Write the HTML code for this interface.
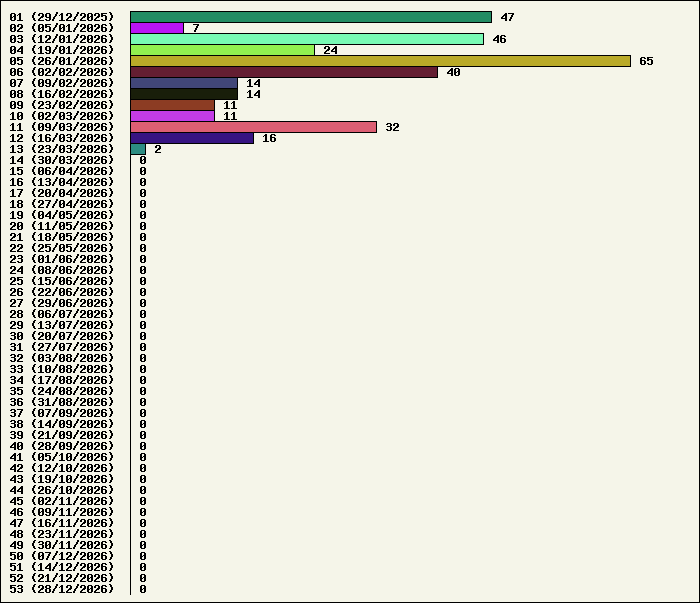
<!DOCTYPE html>
<html lang="en"><head><meta charset="utf-8"><title>Weekly totals</title>
<style>
html,body{margin:0;padding:0;}
body{width:700px;height:603px;overflow:hidden;background:#f5f5e9;}
#c{position:relative;width:698px;height:601px;border:1px solid #000;background:#f5f5e9;overflow:hidden;}
#tx{position:absolute;left:0;top:0;width:698px;height:601px;filter:url(#th);}
.t{position:absolute;font-family:"Liberation Mono",monospace;font-weight:bold;font-size:11px;letter-spacing:0;line-height:13px;height:13px;color:#000;white-space:pre;margin:0;text-rendering:geometricPrecision;transform-origin:0 0;transform:scale(1.1667,1.05);}
.t i{font-style:normal;position:relative;display:inline-block;width:6px;text-align:center;line-height:1px;}
.d0{font-family:"DejaVu Sans Mono",monospace;font-size:12px;left:-0.1875px;top:-0.25px;transform:scale(1,0.875);}
.d1{font-size:11px;left:-0.4375px;top:-0.1875px;transform:scale(0.8375,1.0125);-webkit-text-stroke:0.175px #000;}
.d2{font-family:"DejaVu Sans Mono",monospace;font-size:12.375px;left:-0.4375px;top:-0.4375px;transform:scale(0.9125,0.825);}
.d3{font-size:12.75px;left:-0.0625px;top:0.3125px;transform:scale(0.825,0.925);}
.d4{font-weight:normal;font-size:8.625px;left:0.6875px;top:-1.25px;transform:scale(1.375,1.3375);-webkit-text-stroke:0.325px #000;}
.d5{font-family:"Liberation Sans",sans-serif;font-size:10.375px;left:0.5px;top:-0.75px;transform:scale(1,1.1375);-webkit-text-stroke:0.15px #000;}
.d6{font-size:15px;left:-0.9375px;top:-0.3125px;transform:scale(0.7625,0.7875);-webkit-text-stroke:0.1px #000;}
.d7{font-weight:normal;font-size:10.625px;left:0.3125px;top:-0.4375px;transform:scale(1.0875,1.0375);-webkit-text-stroke:0.275px #000;}
.d8{font-size:11.125px;left:-0.1875px;top:-1px;transform:scale(0.9625,1.1);}
.d9{font-size:11.375px;left:-0.375px;top:-0.3125px;transform:scale(1.025,1.0375);}
.po{font-size:11.875px;left:-0.25px;top:-1.75px;transform:scale(1.025,0.8);-webkit-text-stroke:0.075px #000;}
.sl{font-size:11.5px;left:-0.3125px;top:0.4375px;transform:scale(0.9,0.975);-webkit-text-stroke:0.425px #000;}
.pc{font-size:12.25px;left:0px;top:-1.625px;transform:scale(0.7,0.725);-webkit-text-stroke:0.45px #000;}
.b{position:absolute;height:10px;border:1px solid #000;box-sizing:content-box;}
#ax{position:absolute;left:129px;top:10px;width:1px;height:584px;background:#000;}
.px{position:absolute;left:0;top:0;width:1px;height:1px;}
#pa{color:#000;}
#pr{color:#f5f5e9;}
svg.f{position:absolute;width:0;height:0;}
</style></head><body>
<svg class="f" width="0" height="0" aria-hidden="true"><filter id="th" x="0" y="0" width="100%" height="100%" color-interpolation-filters="sRGB"><feComponentTransfer><feFuncA type="discrete" tableValues="0 0 1 1"/></feComponentTransfer></filter></svg>
<div id="c">
<div id="ax"></div>
<div class="b" style="left:129px;top:10px;width:360px;background:#238c64"></div>
<div class="b" style="left:129px;top:21px;width:52px;background:#b914f5"></div>
<div class="b" style="left:129px;top:32px;width:352px;background:#78fab4"></div>
<div class="b" style="left:129px;top:43px;width:183px;background:#91f050"></div>
<div class="b" style="left:129px;top:54px;width:499px;background:#b9aa28"></div>
<div class="b" style="left:129px;top:65px;width:306px;background:#641e32"></div>
<div class="b" style="left:129px;top:76px;width:106px;background:#414678"></div>
<div class="b" style="left:129px;top:87px;width:106px;background:#191e0a"></div>
<div class="b" style="left:129px;top:98px;width:83px;background:#8c3c23"></div>
<div class="b" style="left:129px;top:109px;width:83px;background:#c33ce6"></div>
<div class="b" style="left:129px;top:120px;width:245px;background:#dc5f73"></div>
<div class="b" style="left:129px;top:131px;width:122px;background:#371482"></div>
<div class="b" style="left:129px;top:142px;width:14px;background:#2d8c82"></div>
<div id="tx">
<div class="t" aria-label="01 (29/12/2025)" style="left:8px;top:12px"><i class="d0">0</i><i class="d1">1</i><i> </i><i class="po">(</i><i class="d2">2</i><i class="d9">9</i><i class="sl">/</i><i class="d1">1</i><i class="d2">2</i><i class="sl">/</i><i class="d2">2</i><i class="d0">0</i><i class="d2">2</i><i class="d5">5</i><i class="pc">)</i></div><div class="t" aria-label="47" style="left:499px;top:12px"><i class="d4">4</i><i class="d7">7</i></div>
<div class="t" aria-label="02 (05/01/2026)" style="left:8px;top:23px"><i class="d0">0</i><i class="d2">2</i><i> </i><i class="po">(</i><i class="d0">0</i><i class="d5">5</i><i class="sl">/</i><i class="d0">0</i><i class="d1">1</i><i class="sl">/</i><i class="d2">2</i><i class="d0">0</i><i class="d2">2</i><i class="d6">6</i><i class="pc">)</i></div><div class="t" aria-label="7" style="left:191px;top:23px"><i class="d7">7</i></div>
<div class="t" aria-label="03 (12/01/2026)" style="left:8px;top:34px"><i class="d0">0</i><i class="d3">3</i><i> </i><i class="po">(</i><i class="d1">1</i><i class="d2">2</i><i class="sl">/</i><i class="d0">0</i><i class="d1">1</i><i class="sl">/</i><i class="d2">2</i><i class="d0">0</i><i class="d2">2</i><i class="d6">6</i><i class="pc">)</i></div><div class="t" aria-label="46" style="left:491px;top:34px"><i class="d4">4</i><i class="d6">6</i></div>
<div class="t" aria-label="04 (19/01/2026)" style="left:8px;top:45px"><i class="d0">0</i><i class="d4">4</i><i> </i><i class="po">(</i><i class="d1">1</i><i class="d9">9</i><i class="sl">/</i><i class="d0">0</i><i class="d1">1</i><i class="sl">/</i><i class="d2">2</i><i class="d0">0</i><i class="d2">2</i><i class="d6">6</i><i class="pc">)</i></div><div class="t" aria-label="24" style="left:322px;top:45px"><i class="d2">2</i><i class="d4">4</i></div>
<div class="t" aria-label="05 (26/01/2026)" style="left:8px;top:56px"><i class="d0">0</i><i class="d5">5</i><i> </i><i class="po">(</i><i class="d2">2</i><i class="d6">6</i><i class="sl">/</i><i class="d0">0</i><i class="d1">1</i><i class="sl">/</i><i class="d2">2</i><i class="d0">0</i><i class="d2">2</i><i class="d6">6</i><i class="pc">)</i></div><div class="t" aria-label="65" style="left:638px;top:56px"><i class="d6">6</i><i class="d5">5</i></div>
<div class="t" aria-label="06 (02/02/2026)" style="left:8px;top:67px"><i class="d0">0</i><i class="d6">6</i><i> </i><i class="po">(</i><i class="d0">0</i><i class="d2">2</i><i class="sl">/</i><i class="d0">0</i><i class="d2">2</i><i class="sl">/</i><i class="d2">2</i><i class="d0">0</i><i class="d2">2</i><i class="d6">6</i><i class="pc">)</i></div><div class="t" aria-label="40" style="left:445px;top:67px"><i class="d4">4</i><i class="d0">0</i></div>
<div class="t" aria-label="07 (09/02/2026)" style="left:8px;top:78px"><i class="d0">0</i><i class="d7">7</i><i> </i><i class="po">(</i><i class="d0">0</i><i class="d9">9</i><i class="sl">/</i><i class="d0">0</i><i class="d2">2</i><i class="sl">/</i><i class="d2">2</i><i class="d0">0</i><i class="d2">2</i><i class="d6">6</i><i class="pc">)</i></div><div class="t" aria-label="14" style="left:245px;top:78px"><i class="d1">1</i><i class="d4">4</i></div>
<div class="t" aria-label="08 (16/02/2026)" style="left:8px;top:89px"><i class="d0">0</i><i class="d8">8</i><i> </i><i class="po">(</i><i class="d1">1</i><i class="d6">6</i><i class="sl">/</i><i class="d0">0</i><i class="d2">2</i><i class="sl">/</i><i class="d2">2</i><i class="d0">0</i><i class="d2">2</i><i class="d6">6</i><i class="pc">)</i></div><div class="t" aria-label="14" style="left:245px;top:89px"><i class="d1">1</i><i class="d4">4</i></div>
<div class="t" aria-label="09 (23/02/2026)" style="left:8px;top:100px"><i class="d0">0</i><i class="d9">9</i><i> </i><i class="po">(</i><i class="d2">2</i><i class="d3">3</i><i class="sl">/</i><i class="d0">0</i><i class="d2">2</i><i class="sl">/</i><i class="d2">2</i><i class="d0">0</i><i class="d2">2</i><i class="d6">6</i><i class="pc">)</i></div><div class="t" aria-label="11" style="left:222px;top:100px"><i class="d1">1</i><i class="d1">1</i></div>
<div class="t" aria-label="10 (02/03/2026)" style="left:8px;top:111px"><i class="d1">1</i><i class="d0">0</i><i> </i><i class="po">(</i><i class="d0">0</i><i class="d2">2</i><i class="sl">/</i><i class="d0">0</i><i class="d3">3</i><i class="sl">/</i><i class="d2">2</i><i class="d0">0</i><i class="d2">2</i><i class="d6">6</i><i class="pc">)</i></div><div class="t" aria-label="11" style="left:222px;top:111px"><i class="d1">1</i><i class="d1">1</i></div>
<div class="t" aria-label="11 (09/03/2026)" style="left:8px;top:122px"><i class="d1">1</i><i class="d1">1</i><i> </i><i class="po">(</i><i class="d0">0</i><i class="d9">9</i><i class="sl">/</i><i class="d0">0</i><i class="d3">3</i><i class="sl">/</i><i class="d2">2</i><i class="d0">0</i><i class="d2">2</i><i class="d6">6</i><i class="pc">)</i></div><div class="t" aria-label="32" style="left:384px;top:122px"><i class="d3">3</i><i class="d2">2</i></div>
<div class="t" aria-label="12 (16/03/2026)" style="left:8px;top:133px"><i class="d1">1</i><i class="d2">2</i><i> </i><i class="po">(</i><i class="d1">1</i><i class="d6">6</i><i class="sl">/</i><i class="d0">0</i><i class="d3">3</i><i class="sl">/</i><i class="d2">2</i><i class="d0">0</i><i class="d2">2</i><i class="d6">6</i><i class="pc">)</i></div><div class="t" aria-label="16" style="left:261px;top:133px"><i class="d1">1</i><i class="d6">6</i></div>
<div class="t" aria-label="13 (23/03/2026)" style="left:8px;top:144px"><i class="d1">1</i><i class="d3">3</i><i> </i><i class="po">(</i><i class="d2">2</i><i class="d3">3</i><i class="sl">/</i><i class="d0">0</i><i class="d3">3</i><i class="sl">/</i><i class="d2">2</i><i class="d0">0</i><i class="d2">2</i><i class="d6">6</i><i class="pc">)</i></div><div class="t" aria-label="2" style="left:153px;top:144px"><i class="d2">2</i></div>
<div class="t" aria-label="14 (30/03/2026)" style="left:8px;top:155px"><i class="d1">1</i><i class="d4">4</i><i> </i><i class="po">(</i><i class="d3">3</i><i class="d0">0</i><i class="sl">/</i><i class="d0">0</i><i class="d3">3</i><i class="sl">/</i><i class="d2">2</i><i class="d0">0</i><i class="d2">2</i><i class="d6">6</i><i class="pc">)</i></div><div class="t" aria-label="0" style="left:138px;top:155px"><i class="d0">0</i></div>
<div class="t" aria-label="15 (06/04/2026)" style="left:8px;top:166px"><i class="d1">1</i><i class="d5">5</i><i> </i><i class="po">(</i><i class="d0">0</i><i class="d6">6</i><i class="sl">/</i><i class="d0">0</i><i class="d4">4</i><i class="sl">/</i><i class="d2">2</i><i class="d0">0</i><i class="d2">2</i><i class="d6">6</i><i class="pc">)</i></div><div class="t" aria-label="0" style="left:138px;top:166px"><i class="d0">0</i></div>
<div class="t" aria-label="16 (13/04/2026)" style="left:8px;top:177px"><i class="d1">1</i><i class="d6">6</i><i> </i><i class="po">(</i><i class="d1">1</i><i class="d3">3</i><i class="sl">/</i><i class="d0">0</i><i class="d4">4</i><i class="sl">/</i><i class="d2">2</i><i class="d0">0</i><i class="d2">2</i><i class="d6">6</i><i class="pc">)</i></div><div class="t" aria-label="0" style="left:138px;top:177px"><i class="d0">0</i></div>
<div class="t" aria-label="17 (20/04/2026)" style="left:8px;top:188px"><i class="d1">1</i><i class="d7">7</i><i> </i><i class="po">(</i><i class="d2">2</i><i class="d0">0</i><i class="sl">/</i><i class="d0">0</i><i class="d4">4</i><i class="sl">/</i><i class="d2">2</i><i class="d0">0</i><i class="d2">2</i><i class="d6">6</i><i class="pc">)</i></div><div class="t" aria-label="0" style="left:138px;top:188px"><i class="d0">0</i></div>
<div class="t" aria-label="18 (27/04/2026)" style="left:8px;top:199px"><i class="d1">1</i><i class="d8">8</i><i> </i><i class="po">(</i><i class="d2">2</i><i class="d7">7</i><i class="sl">/</i><i class="d0">0</i><i class="d4">4</i><i class="sl">/</i><i class="d2">2</i><i class="d0">0</i><i class="d2">2</i><i class="d6">6</i><i class="pc">)</i></div><div class="t" aria-label="0" style="left:138px;top:199px"><i class="d0">0</i></div>
<div class="t" aria-label="19 (04/05/2026)" style="left:8px;top:210px"><i class="d1">1</i><i class="d9">9</i><i> </i><i class="po">(</i><i class="d0">0</i><i class="d4">4</i><i class="sl">/</i><i class="d0">0</i><i class="d5">5</i><i class="sl">/</i><i class="d2">2</i><i class="d0">0</i><i class="d2">2</i><i class="d6">6</i><i class="pc">)</i></div><div class="t" aria-label="0" style="left:138px;top:210px"><i class="d0">0</i></div>
<div class="t" aria-label="20 (11/05/2026)" style="left:8px;top:221px"><i class="d2">2</i><i class="d0">0</i><i> </i><i class="po">(</i><i class="d1">1</i><i class="d1">1</i><i class="sl">/</i><i class="d0">0</i><i class="d5">5</i><i class="sl">/</i><i class="d2">2</i><i class="d0">0</i><i class="d2">2</i><i class="d6">6</i><i class="pc">)</i></div><div class="t" aria-label="0" style="left:138px;top:221px"><i class="d0">0</i></div>
<div class="t" aria-label="21 (18/05/2026)" style="left:8px;top:232px"><i class="d2">2</i><i class="d1">1</i><i> </i><i class="po">(</i><i class="d1">1</i><i class="d8">8</i><i class="sl">/</i><i class="d0">0</i><i class="d5">5</i><i class="sl">/</i><i class="d2">2</i><i class="d0">0</i><i class="d2">2</i><i class="d6">6</i><i class="pc">)</i></div><div class="t" aria-label="0" style="left:138px;top:232px"><i class="d0">0</i></div>
<div class="t" aria-label="22 (25/05/2026)" style="left:8px;top:243px"><i class="d2">2</i><i class="d2">2</i><i> </i><i class="po">(</i><i class="d2">2</i><i class="d5">5</i><i class="sl">/</i><i class="d0">0</i><i class="d5">5</i><i class="sl">/</i><i class="d2">2</i><i class="d0">0</i><i class="d2">2</i><i class="d6">6</i><i class="pc">)</i></div><div class="t" aria-label="0" style="left:138px;top:243px"><i class="d0">0</i></div>
<div class="t" aria-label="23 (01/06/2026)" style="left:8px;top:254px"><i class="d2">2</i><i class="d3">3</i><i> </i><i class="po">(</i><i class="d0">0</i><i class="d1">1</i><i class="sl">/</i><i class="d0">0</i><i class="d6">6</i><i class="sl">/</i><i class="d2">2</i><i class="d0">0</i><i class="d2">2</i><i class="d6">6</i><i class="pc">)</i></div><div class="t" aria-label="0" style="left:138px;top:254px"><i class="d0">0</i></div>
<div class="t" aria-label="24 (08/06/2026)" style="left:8px;top:265px"><i class="d2">2</i><i class="d4">4</i><i> </i><i class="po">(</i><i class="d0">0</i><i class="d8">8</i><i class="sl">/</i><i class="d0">0</i><i class="d6">6</i><i class="sl">/</i><i class="d2">2</i><i class="d0">0</i><i class="d2">2</i><i class="d6">6</i><i class="pc">)</i></div><div class="t" aria-label="0" style="left:138px;top:265px"><i class="d0">0</i></div>
<div class="t" aria-label="25 (15/06/2026)" style="left:8px;top:276px"><i class="d2">2</i><i class="d5">5</i><i> </i><i class="po">(</i><i class="d1">1</i><i class="d5">5</i><i class="sl">/</i><i class="d0">0</i><i class="d6">6</i><i class="sl">/</i><i class="d2">2</i><i class="d0">0</i><i class="d2">2</i><i class="d6">6</i><i class="pc">)</i></div><div class="t" aria-label="0" style="left:138px;top:276px"><i class="d0">0</i></div>
<div class="t" aria-label="26 (22/06/2026)" style="left:8px;top:287px"><i class="d2">2</i><i class="d6">6</i><i> </i><i class="po">(</i><i class="d2">2</i><i class="d2">2</i><i class="sl">/</i><i class="d0">0</i><i class="d6">6</i><i class="sl">/</i><i class="d2">2</i><i class="d0">0</i><i class="d2">2</i><i class="d6">6</i><i class="pc">)</i></div><div class="t" aria-label="0" style="left:138px;top:287px"><i class="d0">0</i></div>
<div class="t" aria-label="27 (29/06/2026)" style="left:8px;top:298px"><i class="d2">2</i><i class="d7">7</i><i> </i><i class="po">(</i><i class="d2">2</i><i class="d9">9</i><i class="sl">/</i><i class="d0">0</i><i class="d6">6</i><i class="sl">/</i><i class="d2">2</i><i class="d0">0</i><i class="d2">2</i><i class="d6">6</i><i class="pc">)</i></div><div class="t" aria-label="0" style="left:138px;top:298px"><i class="d0">0</i></div>
<div class="t" aria-label="28 (06/07/2026)" style="left:8px;top:309px"><i class="d2">2</i><i class="d8">8</i><i> </i><i class="po">(</i><i class="d0">0</i><i class="d6">6</i><i class="sl">/</i><i class="d0">0</i><i class="d7">7</i><i class="sl">/</i><i class="d2">2</i><i class="d0">0</i><i class="d2">2</i><i class="d6">6</i><i class="pc">)</i></div><div class="t" aria-label="0" style="left:138px;top:309px"><i class="d0">0</i></div>
<div class="t" aria-label="29 (13/07/2026)" style="left:8px;top:320px"><i class="d2">2</i><i class="d9">9</i><i> </i><i class="po">(</i><i class="d1">1</i><i class="d3">3</i><i class="sl">/</i><i class="d0">0</i><i class="d7">7</i><i class="sl">/</i><i class="d2">2</i><i class="d0">0</i><i class="d2">2</i><i class="d6">6</i><i class="pc">)</i></div><div class="t" aria-label="0" style="left:138px;top:320px"><i class="d0">0</i></div>
<div class="t" aria-label="30 (20/07/2026)" style="left:8px;top:331px"><i class="d3">3</i><i class="d0">0</i><i> </i><i class="po">(</i><i class="d2">2</i><i class="d0">0</i><i class="sl">/</i><i class="d0">0</i><i class="d7">7</i><i class="sl">/</i><i class="d2">2</i><i class="d0">0</i><i class="d2">2</i><i class="d6">6</i><i class="pc">)</i></div><div class="t" aria-label="0" style="left:138px;top:331px"><i class="d0">0</i></div>
<div class="t" aria-label="31 (27/07/2026)" style="left:8px;top:342px"><i class="d3">3</i><i class="d1">1</i><i> </i><i class="po">(</i><i class="d2">2</i><i class="d7">7</i><i class="sl">/</i><i class="d0">0</i><i class="d7">7</i><i class="sl">/</i><i class="d2">2</i><i class="d0">0</i><i class="d2">2</i><i class="d6">6</i><i class="pc">)</i></div><div class="t" aria-label="0" style="left:138px;top:342px"><i class="d0">0</i></div>
<div class="t" aria-label="32 (03/08/2026)" style="left:8px;top:353px"><i class="d3">3</i><i class="d2">2</i><i> </i><i class="po">(</i><i class="d0">0</i><i class="d3">3</i><i class="sl">/</i><i class="d0">0</i><i class="d8">8</i><i class="sl">/</i><i class="d2">2</i><i class="d0">0</i><i class="d2">2</i><i class="d6">6</i><i class="pc">)</i></div><div class="t" aria-label="0" style="left:138px;top:353px"><i class="d0">0</i></div>
<div class="t" aria-label="33 (10/08/2026)" style="left:8px;top:364px"><i class="d3">3</i><i class="d3">3</i><i> </i><i class="po">(</i><i class="d1">1</i><i class="d0">0</i><i class="sl">/</i><i class="d0">0</i><i class="d8">8</i><i class="sl">/</i><i class="d2">2</i><i class="d0">0</i><i class="d2">2</i><i class="d6">6</i><i class="pc">)</i></div><div class="t" aria-label="0" style="left:138px;top:364px"><i class="d0">0</i></div>
<div class="t" aria-label="34 (17/08/2026)" style="left:8px;top:375px"><i class="d3">3</i><i class="d4">4</i><i> </i><i class="po">(</i><i class="d1">1</i><i class="d7">7</i><i class="sl">/</i><i class="d0">0</i><i class="d8">8</i><i class="sl">/</i><i class="d2">2</i><i class="d0">0</i><i class="d2">2</i><i class="d6">6</i><i class="pc">)</i></div><div class="t" aria-label="0" style="left:138px;top:375px"><i class="d0">0</i></div>
<div class="t" aria-label="35 (24/08/2026)" style="left:8px;top:386px"><i class="d3">3</i><i class="d5">5</i><i> </i><i class="po">(</i><i class="d2">2</i><i class="d4">4</i><i class="sl">/</i><i class="d0">0</i><i class="d8">8</i><i class="sl">/</i><i class="d2">2</i><i class="d0">0</i><i class="d2">2</i><i class="d6">6</i><i class="pc">)</i></div><div class="t" aria-label="0" style="left:138px;top:386px"><i class="d0">0</i></div>
<div class="t" aria-label="36 (31/08/2026)" style="left:8px;top:397px"><i class="d3">3</i><i class="d6">6</i><i> </i><i class="po">(</i><i class="d3">3</i><i class="d1">1</i><i class="sl">/</i><i class="d0">0</i><i class="d8">8</i><i class="sl">/</i><i class="d2">2</i><i class="d0">0</i><i class="d2">2</i><i class="d6">6</i><i class="pc">)</i></div><div class="t" aria-label="0" style="left:138px;top:397px"><i class="d0">0</i></div>
<div class="t" aria-label="37 (07/09/2026)" style="left:8px;top:408px"><i class="d3">3</i><i class="d7">7</i><i> </i><i class="po">(</i><i class="d0">0</i><i class="d7">7</i><i class="sl">/</i><i class="d0">0</i><i class="d9">9</i><i class="sl">/</i><i class="d2">2</i><i class="d0">0</i><i class="d2">2</i><i class="d6">6</i><i class="pc">)</i></div><div class="t" aria-label="0" style="left:138px;top:408px"><i class="d0">0</i></div>
<div class="t" aria-label="38 (14/09/2026)" style="left:8px;top:419px"><i class="d3">3</i><i class="d8">8</i><i> </i><i class="po">(</i><i class="d1">1</i><i class="d4">4</i><i class="sl">/</i><i class="d0">0</i><i class="d9">9</i><i class="sl">/</i><i class="d2">2</i><i class="d0">0</i><i class="d2">2</i><i class="d6">6</i><i class="pc">)</i></div><div class="t" aria-label="0" style="left:138px;top:419px"><i class="d0">0</i></div>
<div class="t" aria-label="39 (21/09/2026)" style="left:8px;top:430px"><i class="d3">3</i><i class="d9">9</i><i> </i><i class="po">(</i><i class="d2">2</i><i class="d1">1</i><i class="sl">/</i><i class="d0">0</i><i class="d9">9</i><i class="sl">/</i><i class="d2">2</i><i class="d0">0</i><i class="d2">2</i><i class="d6">6</i><i class="pc">)</i></div><div class="t" aria-label="0" style="left:138px;top:430px"><i class="d0">0</i></div>
<div class="t" aria-label="40 (28/09/2026)" style="left:8px;top:441px"><i class="d4">4</i><i class="d0">0</i><i> </i><i class="po">(</i><i class="d2">2</i><i class="d8">8</i><i class="sl">/</i><i class="d0">0</i><i class="d9">9</i><i class="sl">/</i><i class="d2">2</i><i class="d0">0</i><i class="d2">2</i><i class="d6">6</i><i class="pc">)</i></div><div class="t" aria-label="0" style="left:138px;top:441px"><i class="d0">0</i></div>
<div class="t" aria-label="41 (05/10/2026)" style="left:8px;top:452px"><i class="d4">4</i><i class="d1">1</i><i> </i><i class="po">(</i><i class="d0">0</i><i class="d5">5</i><i class="sl">/</i><i class="d1">1</i><i class="d0">0</i><i class="sl">/</i><i class="d2">2</i><i class="d0">0</i><i class="d2">2</i><i class="d6">6</i><i class="pc">)</i></div><div class="t" aria-label="0" style="left:138px;top:452px"><i class="d0">0</i></div>
<div class="t" aria-label="42 (12/10/2026)" style="left:8px;top:463px"><i class="d4">4</i><i class="d2">2</i><i> </i><i class="po">(</i><i class="d1">1</i><i class="d2">2</i><i class="sl">/</i><i class="d1">1</i><i class="d0">0</i><i class="sl">/</i><i class="d2">2</i><i class="d0">0</i><i class="d2">2</i><i class="d6">6</i><i class="pc">)</i></div><div class="t" aria-label="0" style="left:138px;top:463px"><i class="d0">0</i></div>
<div class="t" aria-label="43 (19/10/2026)" style="left:8px;top:474px"><i class="d4">4</i><i class="d3">3</i><i> </i><i class="po">(</i><i class="d1">1</i><i class="d9">9</i><i class="sl">/</i><i class="d1">1</i><i class="d0">0</i><i class="sl">/</i><i class="d2">2</i><i class="d0">0</i><i class="d2">2</i><i class="d6">6</i><i class="pc">)</i></div><div class="t" aria-label="0" style="left:138px;top:474px"><i class="d0">0</i></div>
<div class="t" aria-label="44 (26/10/2026)" style="left:8px;top:485px"><i class="d4">4</i><i class="d4">4</i><i> </i><i class="po">(</i><i class="d2">2</i><i class="d6">6</i><i class="sl">/</i><i class="d1">1</i><i class="d0">0</i><i class="sl">/</i><i class="d2">2</i><i class="d0">0</i><i class="d2">2</i><i class="d6">6</i><i class="pc">)</i></div><div class="t" aria-label="0" style="left:138px;top:485px"><i class="d0">0</i></div>
<div class="t" aria-label="45 (02/11/2026)" style="left:8px;top:496px"><i class="d4">4</i><i class="d5">5</i><i> </i><i class="po">(</i><i class="d0">0</i><i class="d2">2</i><i class="sl">/</i><i class="d1">1</i><i class="d1">1</i><i class="sl">/</i><i class="d2">2</i><i class="d0">0</i><i class="d2">2</i><i class="d6">6</i><i class="pc">)</i></div><div class="t" aria-label="0" style="left:138px;top:496px"><i class="d0">0</i></div>
<div class="t" aria-label="46 (09/11/2026)" style="left:8px;top:507px"><i class="d4">4</i><i class="d6">6</i><i> </i><i class="po">(</i><i class="d0">0</i><i class="d9">9</i><i class="sl">/</i><i class="d1">1</i><i class="d1">1</i><i class="sl">/</i><i class="d2">2</i><i class="d0">0</i><i class="d2">2</i><i class="d6">6</i><i class="pc">)</i></div><div class="t" aria-label="0" style="left:138px;top:507px"><i class="d0">0</i></div>
<div class="t" aria-label="47 (16/11/2026)" style="left:8px;top:518px"><i class="d4">4</i><i class="d7">7</i><i> </i><i class="po">(</i><i class="d1">1</i><i class="d6">6</i><i class="sl">/</i><i class="d1">1</i><i class="d1">1</i><i class="sl">/</i><i class="d2">2</i><i class="d0">0</i><i class="d2">2</i><i class="d6">6</i><i class="pc">)</i></div><div class="t" aria-label="0" style="left:138px;top:518px"><i class="d0">0</i></div>
<div class="t" aria-label="48 (23/11/2026)" style="left:8px;top:529px"><i class="d4">4</i><i class="d8">8</i><i> </i><i class="po">(</i><i class="d2">2</i><i class="d3">3</i><i class="sl">/</i><i class="d1">1</i><i class="d1">1</i><i class="sl">/</i><i class="d2">2</i><i class="d0">0</i><i class="d2">2</i><i class="d6">6</i><i class="pc">)</i></div><div class="t" aria-label="0" style="left:138px;top:529px"><i class="d0">0</i></div>
<div class="t" aria-label="49 (30/11/2026)" style="left:8px;top:540px"><i class="d4">4</i><i class="d9">9</i><i> </i><i class="po">(</i><i class="d3">3</i><i class="d0">0</i><i class="sl">/</i><i class="d1">1</i><i class="d1">1</i><i class="sl">/</i><i class="d2">2</i><i class="d0">0</i><i class="d2">2</i><i class="d6">6</i><i class="pc">)</i></div><div class="t" aria-label="0" style="left:138px;top:540px"><i class="d0">0</i></div>
<div class="t" aria-label="50 (07/12/2026)" style="left:8px;top:551px"><i class="d5">5</i><i class="d0">0</i><i> </i><i class="po">(</i><i class="d0">0</i><i class="d7">7</i><i class="sl">/</i><i class="d1">1</i><i class="d2">2</i><i class="sl">/</i><i class="d2">2</i><i class="d0">0</i><i class="d2">2</i><i class="d6">6</i><i class="pc">)</i></div><div class="t" aria-label="0" style="left:138px;top:551px"><i class="d0">0</i></div>
<div class="t" aria-label="51 (14/12/2026)" style="left:8px;top:562px"><i class="d5">5</i><i class="d1">1</i><i> </i><i class="po">(</i><i class="d1">1</i><i class="d4">4</i><i class="sl">/</i><i class="d1">1</i><i class="d2">2</i><i class="sl">/</i><i class="d2">2</i><i class="d0">0</i><i class="d2">2</i><i class="d6">6</i><i class="pc">)</i></div><div class="t" aria-label="0" style="left:138px;top:562px"><i class="d0">0</i></div>
<div class="t" aria-label="52 (21/12/2026)" style="left:8px;top:573px"><i class="d5">5</i><i class="d2">2</i><i> </i><i class="po">(</i><i class="d2">2</i><i class="d1">1</i><i class="sl">/</i><i class="d1">1</i><i class="d2">2</i><i class="sl">/</i><i class="d2">2</i><i class="d0">0</i><i class="d2">2</i><i class="d6">6</i><i class="pc">)</i></div><div class="t" aria-label="0" style="left:138px;top:573px"><i class="d0">0</i></div>
<div class="t" aria-label="53 (28/12/2026)" style="left:8px;top:584px"><i class="d5">5</i><i class="d3">3</i><i> </i><i class="po">(</i><i class="d2">2</i><i class="d8">8</i><i class="sl">/</i><i class="d1">1</i><i class="d2">2</i><i class="sl">/</i><i class="d2">2</i><i class="d0">0</i><i class="d2">2</i><i class="d6">6</i><i class="pc">)</i></div><div class="t" aria-label="0" style="left:138px;top:584px"><i class="d0">0</i></div>
</div>
<div class="px" id="pa" style="box-shadow:37px 14px,38px 14px,65px 14px,66px 14px,79px 14px,80px 14px,93px 14px,94px 14px,12px 15px,89px 15px,16px 25px,17px 25px,79px 25px,80px 25px,93px 25px,94px 25px,12px 26px,40px 26px,61px 26px,89px 26px,44px 36px,45px 36px,79px 36px,80px 36px,93px 36px,94px 36px,12px 37px,17px 37px,61px 37px,89px 37px,79px 47px,80px 47px,93px 47px,94px 47px,323px 47px,324px 47px,12px 48px,61px 48px,89px 48px,37px 58px,38px 58px,79px 58px,80px 58px,93px 58px,94px 58px,12px 59px,61px 59px,89px 59px,44px 69px,45px 69px,65px 69px,66px 69px,79px 69px,80px 69px,93px 69px,94px 69px,12px 70px,40px 70px,61px 70px,89px 70px,456px 70px,65px 80px,66px 80px,79px 80px,80px 80px,93px 80px,94px 80px,12px 81px,40px 81px,61px 81px,89px 81px,65px 91px,66px 91px,79px 91px,80px 91px,93px 91px,94px 91px,12px 92px,61px 92px,89px 92px,37px 102px,38px 102px,65px 102px,66px 102px,79px 102px,80px 102px,93px 102px,94px 102px,12px 103px,45px 103px,61px 103px,89px 103px,44px 113px,45px 113px,79px 113px,80px 113px,93px 113px,94px 113px,19px 114px,40px 114px,61px 114px,66px 114px,89px 114px,79px 124px,80px 124px,93px 124px,94px 124px,392px 124px,393px 124px,40px 125px,61px 125px,66px 125px,89px 125px,386px 125px,16px 135px,17px 135px,79px 135px,80px 135px,93px 135px,94px 135px,61px 136px,66px 136px,89px 136px,37px 146px,38px 146px,79px 146px,80px 146px,93px 146px,94px 146px,154px 146px,155px 146px,17px 147px,45px 147px,61px 147px,66px 147px,89px 147px,79px 157px,80px 157px,93px 157px,94px 157px,38px 158px,47px 158px,61px 158px,66px 158px,89px 158px,142px 158px,79px 168px,80px 168px,93px 168px,94px 168px,40px 169px,61px 169px,89px 169px,142px 169px,79px 179px,80px 179px,93px 179px,94px 179px,45px 180px,61px 180px,89px 180px,142px 180px,37px 190px,38px 190px,79px 190px,80px 190px,93px 190px,94px 190px,47px 191px,61px 191px,89px 191px,142px 191px,37px 201px,38px 201px,79px 201px,80px 201px,93px 201px,94px 201px,61px 202px,89px 202px,142px 202px,79px 212px,80px 212px,93px 212px,94px 212px,40px 213px,61px 213px,89px 213px,142px 213px,9px 223px,10px 223px,79px 223px,80px 223px,93px 223px,94px 223px,19px 224px,61px 224px,89px 224px,142px 224px,9px 234px,10px 234px,79px 234px,80px 234px,93px 234px,94px 234px,61px 235px,89px 235px,142px 235px,9px 245px,10px 245px,16px 245px,17px 245px,37px 245px,38px 245px,79px 245px,80px 245px,93px 245px,94px 245px,61px 246px,89px 246px,142px 246px,9px 256px,10px 256px,79px 256px,80px 256px,93px 256px,94px 256px,17px 257px,40px 257px,61px 257px,89px 257px,142px 257px,9px 267px,10px 267px,79px 267px,80px 267px,93px 267px,94px 267px,40px 268px,61px 268px,89px 268px,142px 268px,9px 278px,10px 278px,79px 278px,80px 278px,93px 278px,94px 278px,61px 279px,89px 279px,142px 279px,9px 289px,10px 289px,37px 289px,38px 289px,44px 289px,45px 289px,79px 289px,80px 289px,93px 289px,94px 289px,61px 290px,89px 290px,142px 290px,9px 300px,10px 300px,37px 300px,38px 300px,79px 300px,80px 300px,93px 300px,94px 300px,61px 301px,89px 301px,142px 301px,9px 311px,10px 311px,79px 311px,80px 311px,93px 311px,94px 311px,40px 312px,61px 312px,89px 312px,142px 312px,9px 322px,10px 322px,79px 322px,80px 322px,93px 322px,94px 322px,45px 323px,61px 323px,89px 323px,142px 323px,37px 333px,38px 333px,79px 333px,80px 333px,93px 333px,94px 333px,10px 334px,19px 334px,47px 334px,61px 334px,89px 334px,142px 334px,37px 344px,38px 344px,79px 344px,80px 344px,93px 344px,94px 344px,10px 345px,61px 345px,89px 345px,142px 345px,16px 355px,17px 355px,79px 355px,80px 355px,93px 355px,94px 355px,10px 356px,40px 356px,45px 356px,61px 356px,89px 356px,142px 356px,79px 366px,80px 366px,93px 366px,94px 366px,10px 367px,17px 367px,47px 367px,61px 367px,89px 367px,142px 367px,79px 377px,80px 377px,93px 377px,94px 377px,10px 378px,61px 378px,89px 378px,142px 378px,37px 388px,38px 388px,79px 388px,80px 388px,93px 388px,94px 388px,10px 389px,61px 389px,89px 389px,142px 389px,79px 399px,80px 399px,93px 399px,94px 399px,10px 400px,38px 400px,61px 400px,89px 400px,142px 400px,79px 410px,80px 410px,93px 410px,94px 410px,10px 411px,40px 411px,61px 411px,89px 411px,142px 411px,79px 421px,80px 421px,93px 421px,94px 421px,10px 422px,61px 422px,89px 422px,142px 422px,37px 432px,38px 432px,79px 432px,80px 432px,93px 432px,94px 432px,10px 433px,61px 433px,89px 433px,142px 433px,37px 443px,38px 443px,79px 443px,80px 443px,93px 443px,94px 443px,19px 444px,61px 444px,89px 444px,142px 444px,79px 454px,80px 454px,93px 454px,94px 454px,40px 455px,68px 455px,89px 455px,142px 455px,16px 465px,17px 465px,44px 465px,45px 465px,79px 465px,80px 465px,93px 465px,94px 465px,68px 466px,89px 466px,142px 466px,79px 476px,80px 476px,93px 476px,94px 476px,17px 477px,68px 477px,89px 477px,142px 477px,37px 487px,38px 487px,79px 487px,80px 487px,93px 487px,94px 487px,68px 488px,89px 488px,142px 488px,44px 498px,45px 498px,79px 498px,80px 498px,93px 498px,94px 498px,40px 499px,89px 499px,142px 499px,79px 509px,80px 509px,93px 509px,94px 509px,40px 510px,89px 510px,142px 510px,79px 520px,80px 520px,93px 520px,94px 520px,89px 521px,142px 521px,37px 531px,38px 531px,79px 531px,80px 531px,93px 531px,94px 531px,45px 532px,89px 532px,142px 532px,79px 542px,80px 542px,93px 542px,94px 542px,38px 543px,47px 543px,89px 543px,142px 543px,65px 553px,66px 553px,79px 553px,80px 553px,93px 553px,94px 553px,19px 554px,40px 554px,89px 554px,142px 554px,65px 564px,66px 564px,79px 564px,80px 564px,93px 564px,94px 564px,89px 565px,142px 565px,16px 575px,17px 575px,37px 575px,38px 575px,65px 575px,66px 575px,79px 575px,80px 575px,93px 575px,94px 575px,89px 576px,142px 576px,37px 586px,38px 586px,65px 586px,66px 586px,79px 586px,80px 586px,93px 586px,94px 586px,17px 587px,89px 587px,142px 587px"></div>
<div class="px" id="pr" style="box-shadow:102px 15px,103px 15px,506px 17px,46px 26px,47px 26px,19px 38px,498px 39px,22px 50px,336px 50px,18px 59px,19px 59px,648px 59px,649px 59px,15px 70px,15px 71px,452px 72px,259px 83px,259px 94px,47px 104px,68px 115px,68px 126px,388px 126px,68px 137px,19px 148px,47px 148px,68px 148px,40px 159px,68px 159px,22px 160px,18px 169px,19px 169px,43px 169px,43px 170px,71px 171px,47px 181px,71px 182px,71px 193px,71px 204px,67px 213px,68px 213px,50px 215px,67px 224px,68px 224px,67px 235px,68px 235px,46px 246px,47px 246px,67px 246px,68px 246px,64px 257px,19px 258px,64px 258px,64px 268px,64px 269px,22px 270px,18px 279px,19px 279px,46px 279px,47px 279px,64px 279px,64px 280px,64px 290px,64px 291px,64px 301px,64px 302px,43px 312px,43px 313px,47px 324px,12px 335px,12px 346px,12px 357px,47px 357px,12px 368px,19px 368px,12px 379px,22px 380px,18px 389px,19px 389px,12px 390px,50px 391px,12px 401px,40px 401px,12px 412px,12px 423px,50px 424px,12px 434px,15px 446px,46px 455px,47px 455px,15px 457px,15px 468px,19px 478px,15px 479px,16px 479px,15px 490px,22px 490px,18px 499px,19px 499px,15px 501px,16px 501px,15px 512px,15px 523px,47px 533px,15px 534px,40px 544px,15px 545px,11px 554px,12px 554px,11px 565px,12px 565px,50px 567px,11px 576px,12px 576px,11px 587px,12px 587px,19px 588px"></div>
</div></body></html>
